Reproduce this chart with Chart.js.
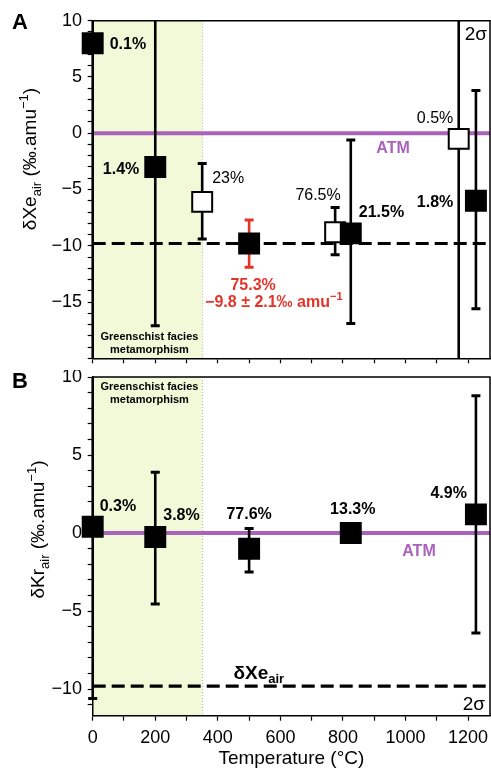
<!DOCTYPE html>
<html><head><meta charset="utf-8">
<script src="https://cdn.jsdelivr.net/npm/chart.js@4.4.1/dist/chart.umd.min.js"></script>
<style>
html,body{margin:0;padding:0;background:#fff;overflow:hidden;width:491px;height:768px;}
#wa{position:absolute;left:0;top:0;width:491px;height:370px;}
#wb{position:absolute;left:0;top:370px;width:491px;height:400px;}
</style></head><body>
<div id="wa"><canvas id="ca"></canvas></div>
<div id="wb"><canvas id="cb"></canvas></div>
<script>
// ---------- DATA ----------
const xRange = [0, 1270];
const xTickLabels = [0, 200, 400, 600, 800, 1000, 1200];
const yRangeA = [-20, 10];
const yRangeB = [-11.7, 10];
const yTickLabels = [-15, -10, -5, 0, 5, 10];
const greenschistRange = [0, 350];
const atmValue = 0;
const xeMean = -9.8;
const xeMeanErr = 2.1;

// Panel A : dXe_air
const tempsA   = [0, 200, 350, 500, 775, 825, 1170, 1225];
const valuesA  = [8.0, -3.0, -6.1, -9.8, -8.8, -8.9, -0.5, -6.0];
const errLowA  = [-22, -17.1, -9.4, -11.9, -10.8, -16.9, -22, -15.6];
const errHighA = [12, 13, -2.7, -7.7, -6.6, -0.6, 12, 3.8];
const openA    = [false, false, true, false, true, false, true, false];
const labelsA  = ['0.1%', '1.4%', '23%', '75.3%', '76.5%', '21.5%', '0.5%', '1.8%'];

// Panel B : dKr_air
const tempsB   = [0, 200, 500, 825, 1225];
const valuesB  = [0.4, -0.25, -1.0, 0.0, 1.2];
const errLowB  = [-10.6, -4.55, -2.5, null, -6.4];
const errHighB = [12, 3.9, 0.3, null, 8.8];
const labelsB  = ['0.3%', '3.8%', '77.6%', '13.3%', '4.9%'];

// ---------- STYLE ----------
const FONT = '"Liberation Sans", Arial, Helvetica, sans-serif';
const RED = '#e3342a';
const PURPLE = '#aa62bb';
const SHADE = '#f1f9d8';

const labelStyleA = [
  {dx: 17, dy: 0, align: 'left', bold: true},
  {dx: -16, dy: 1, align: 'right', bold: true},
  {dx: 10, dy: -25, align: 'left', bold: false},
  {dx: 4, dy: 41, align: 'center', bold: true, color: RED},
  {dx: 5.6, dy: -38, align: 'right', bold: false},
  {dx: 8, dy: -22, align: 'left', bold: true},
  {dx: -5.4, dy: -21.6, align: 'right', bold: false},
  {dx: -22.6, dy: 0, align: 'right', bold: true}
];
const labelStyleB = [
  {dx: 7, dy: -21.4, align: 'left', bold: true},
  {dx: 8, dy: -23, align: 'left', bold: true},
  {dx: 0, dy: -35, align: 'center', bold: true},
  {dx: 2, dy: -25, align: 'center', bold: true},
  {dx: -9, dy: -22, align: 'right', bold: true}
];

function fmt(v) { return v < 0 ? '\u2212' + Math.abs(v) : String(v); }

function parseRich(s) {
  const out = [];
  const re = /_\{([^}]*)\}|\^\{([^}]*)\}|([^_^]+)/g;
  let m;
  while ((m = re.exec(s)) !== null) {
    if (m[1] !== undefined) out.push({t: m[1], s: 'sub'});
    else if (m[2] !== undefined) out.push({t: m[2], s: 'sup'});
    else out.push({t: m[3], s: 'n'});
  }
  return out;
}

// y is visual centre unless baseline=true
function drawRich(ctx, str, x, y, align, size, weight, color, baseline) {
  const parts = parseRich(str);
  const fontFor = p => `${weight} ${p.s === 'n' ? size : Math.round(size * 0.66)}px ${FONT}`;
  let w = 0;
  parts.forEach(p => { ctx.font = fontFor(p); p.w = ctx.measureText(p.t).width; w += p.w; });
  let cx = align === 'center' ? x - w / 2 : align === 'right' ? x - w : x;
  const by = baseline ? y : y + 0.36 * size;
  ctx.save();
  ctx.fillStyle = color; ctx.textAlign = 'left'; ctx.textBaseline = 'alphabetic';
  parts.forEach(p => {
    ctx.font = fontFor(p);
    const off = p.s === 'sub' ? size * 0.24 : p.s === 'sup' ? -size * 0.42 : 0;
    ctx.fillText(p.t, cx, by + off);
    cx += p.w;
  });
  ctx.restore();
}

function makePanelPlugin(cfg) {
  return {
    id: 'panel' + cfg.name,
    beforeDraw(chart) {
      const {ctx, chartArea: a, scales: {x}} = chart;
      const x0 = x.getPixelForValue(greenschistRange[0]);
      const x1 = x.getPixelForValue(greenschistRange[1]);
      ctx.save();
      ctx.fillStyle = SHADE;
      ctx.fillRect(x0, a.top, x1 - x0, a.bottom - a.top);
      ctx.strokeStyle = '#a7b392'; ctx.lineWidth = 1; ctx.setLineDash([1, 2]);
      ctx.beginPath(); ctx.moveTo(x1 + 0.5, a.top); ctx.lineTo(x1 + 0.5, a.bottom); ctx.stroke();
      ctx.restore();
    },
    afterDraw(chart) {
      const {ctx, chartArea: a} = chart;
      ctx.save();
      ctx.strokeStyle = '#000'; ctx.lineWidth = 1.5;
      ctx.beginPath(); ctx.moveTo(a.left, a.top); ctx.lineTo(a.right, a.top); ctx.lineTo(a.right, a.bottom); ctx.stroke();
      ctx.restore();
      cfg.texts(chart).forEach(t => drawRich(ctx, t.text, t.x, t.y, t.align || 'left', t.size || 16, t.weight || 'normal', t.color || '#000'));
      // y-axis title
      ctx.save();
      ctx.translate(cfg.yTitle.x, cfg.yTitle.y);
      ctx.rotate(-Math.PI / 2);
      drawRich(ctx, cfg.yTitle.text, 0, 0, 'center', 19, 'normal', '#000', true);
      ctx.restore();
    }
  };
}

function px(chart, x, y) {
  return {x: chart.scales.x.getPixelForValue(x), y: chart.scales.y.getPixelForValue(y)};
}

function pointLabels(chart, temps, vals, labels, styles) {
  return labels.map((lab, i) => {
    const p = px(chart, temps[i], vals[i]);
    const s = styles[i];
    return {text: lab, x: p.x + s.dx, y: p.y + s.dy, align: s.align, size: 16,
            weight: s.bold ? 'bold' : 'normal', color: s.color || '#000'};
  });
}

function errorBars(temps, lo, hi, colors) {
  const out = [];
  temps.forEach((t, i) => {
    if (lo[i] == null) return;
    out.push({
      showLine: true,
      data: [{x: t, y: lo[i]}, {x: t, y: hi[i]}],
      borderColor: colors[i], borderWidth: 2.6,
      pointStyle: 'line', pointRadius: 4.5, pointBorderWidth: 3,
      pointBorderColor: colors[i], pointBackgroundColor: colors[i],
      clip: {left: 20, right: 20, top: 0, bottom: 0},
      order: 1
    });
  });
  return out;
}

function squares(temps, vals, open) {
  return {
    data: temps.map((t, i) => ({x: t, y: vals[i]})),
    pointStyle: 'rect', pointRadius: 14.1, pointBorderWidth: 2,
    pointBackgroundColor: open.map(o => o ? '#fff' : '#000'),
    pointBorderColor: '#000',
    clip: false, order: 0
  };
}

function hLine(y, color, width, dash) {
  return {
    showLine: true,
    data: [{x: xRange[0], y: y}, {x: xRange[1], y: y}],
    borderColor: color, borderWidth: width, borderDash: dash || [],
    pointRadius: 0, order: 2
  };
}

function axes(yRange, showXLabels, xHeight) {
  const tickFont = {family: FONT, size: 18};
  return {
    x: {
      type: 'linear', min: xRange[0], max: xRange[1],
      border: {color: '#000', width: 1.5},
      grid: {drawOnChartArea: false, drawTicks: true, tickLength: 5, color: '#000', tickWidth: 1.2},
      ticks: {
        stepSize: 100, maxTicksLimit: 1000, autoSkip: false, maxRotation: 0, padding: 7,
        includeBounds: false,
        color: '#000', font: tickFont,
        callback: v => (showXLabels && xTickLabels.includes(v)) ? fmt(v) : ''
      },
      title: showXLabels ? {display: true, text: 'Temperature (°C)', color: '#000',
        font: {family: FONT, size: 19}, padding: 0} : {display: false},
      afterFit: s => { s.height = xHeight; s.paddingLeft = 0; s.paddingRight = 0; s.paddingTop = 0; s.paddingBottom = 0; }
    },
    y: {
      type: 'linear', min: yRange[0], max: yRange[1],
      border: {color: '#000', width: 1.5},
      grid: {drawOnChartArea: false, drawTicks: true, tickLength: 5, color: '#000', tickWidth: 1.2},
      ticks: {
        stepSize: 1, maxTicksLimit: 1000, autoSkip: false, padding: 5.7,
        includeBounds: false,
        color: '#000', font: tickFont,
        callback: v => (yTickLabels.includes(v) && v >= yRange[0]) ? fmt(v) : ''
      },
      afterFit: s => { s.width = 92.7; s.paddingLeft = 0; s.paddingRight = 0; s.paddingTop = 0; s.paddingBottom = 0; }
    }
  };
}

Chart.defaults.font.family = FONT;

// ---------- PANEL A ----------
const colorsA = tempsA.map((t, i) => i === 3 ? RED : '#000');
new Chart(document.getElementById('ca'), {
  type: 'scatter',
  data: {
    datasets: [
      squares(tempsA, valuesA, openA),
      ...errorBars(tempsA, errLowA, errHighA, colorsA),
      hLine(atmValue, PURPLE, 4),
      hLine(xeMean, '#000', 3.2, [13, 6])
    ]
  },
  options: {
    responsive: true, maintainAspectRatio: false, animation: false, events: [],
    devicePixelRatio: 1,
    layout: {autoPadding: false, padding: {top: 20.7, left: 0, right: 1, bottom: 0}},
    plugins: {legend: {display: false}, tooltip: {enabled: false}},
    scales: axes(yRangeA, false, 11.7)
  },
  plugins: [makePanelPlugin({
    name: 'A',
    yTitle: {text: 'δXe_{air} (‰.amu^{−1})', x: 36, y: 159},
    texts: chart => {
      const a = chart.chartArea;
      const gx = (chart.scales.x.getPixelForValue(greenschistRange[0]) + chart.scales.x.getPixelForValue(greenschistRange[1])) / 2 + 2;
      const pm = px(chart, tempsA[3], valuesA[3]);
      const atm = px(chart, 960, atmValue);
      const sig = px(chart, tempsA[6], valuesA[6]);
      return [
        ...pointLabels(chart, tempsA, valuesA, labelsA, labelStyleA),
        {text: `${fmt(xeMean)} ± ${xeMeanErr}‰ amu^{−1}`, x: pm.x - 44, y: pm.y + 57.5, align: 'left', size: 16, weight: 'bold', color: RED},
        {text: 'ATM', x: atm.x, y: atm.y + 14, align: 'center', size: 16, weight: 'bold', color: PURPLE},
        {text: '2σ', x: sig.x + 6, y: a.top + 12.6, align: 'left', size: 19},
        {text: 'Greenschist facies', x: gx, y: a.bottom - 22.3, align: 'center', size: 11, weight: 'bold'},
        {text: 'metamorphism', x: gx, y: a.bottom - 9, align: 'center', size: 11, weight: 'bold'}
      ];
    }
  })]
});

// ---------- PANEL B ----------
new Chart(document.getElementById('cb'), {
  type: 'scatter',
  data: {
    datasets: [
      squares(tempsB, valuesB, tempsB.map(() => false)),
      ...errorBars(tempsB, errLowB, errHighB, tempsB.map(() => '#000')),
      hLine(atmValue, PURPLE, 4),
      hLine(xeMean, '#000', 3.2, [13, 6])
    ]
  },
  options: {
    responsive: true, maintainAspectRatio: false, animation: false, events: [],
    devicePixelRatio: 1,
    layout: {autoPadding: false, padding: {top: 7, left: 0, right: 1, bottom: 0}},
    plugins: {legend: {display: false}, tooltip: {enabled: false}},
    scales: axes(yRangeB, true, 54.3)
  },
  plugins: [makePanelPlugin({
    name: 'B',
    yTitle: {text: 'δKr_{air} (‰.amu^{−1})', x: 44, y: 159.5},
    texts: chart => {
      const a = chart.chartArea;
      const gx = (chart.scales.x.getPixelForValue(greenschistRange[0]) + chart.scales.x.getPixelForValue(greenschistRange[1])) / 2 + 2;
      const atm = px(chart, 1043, atmValue);
      const xe = px(chart, 450, xeMean);
      const sig = px(chart, 1170, xeMean);
      return [
        ...pointLabels(chart, tempsB, valuesB, labelsB, labelStyleB),
        {text: 'ATM', x: atm.x, y: atm.y + 16.7, align: 'center', size: 16, weight: 'bold', color: PURPLE},
        {text: 'δXe_{air}', x: xe.x, y: xe.y - 14, align: 'left', size: 19, weight: 'bold'},
        {text: '2σ', x: sig.x + 4, y: sig.y + 17, align: 'left', size: 19},
        {text: 'Greenschist facies', x: gx, y: a.top + 9, align: 'center', size: 11, weight: 'bold'},
        {text: 'metamorphism', x: gx, y: a.top + 22.3, align: 'center', size: 11, weight: 'bold'}
      ];
    }
  })]
});

// Panel letters
(function () {
  const add = (txt, top) => {
    const d = document.createElement('div');
    d.textContent = txt;
    d.style.cssText = `position:absolute;left:12px;top:${top}px;font:bold 22px ${FONT};color:#000;`;
    document.body.appendChild(d);
  };
  add('A', 9);
  add('B', 368);
})();
</script>
</body></html>
